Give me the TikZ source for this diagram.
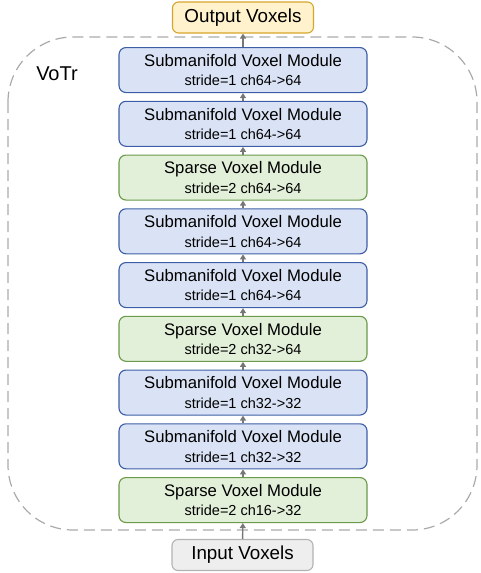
\documentclass[tikz,border=0pt]{standalone}
\usepackage{fontspec}
\setmainfont{Liberation Sans}
\usetikzlibrary{arrows.meta}
\definecolor{bluefill}{HTML}{DAE3F5}
\definecolor{blueline}{HTML}{3D5EA6}
\definecolor{greenfill}{HTML}{E2EFD9}
\definecolor{greenline}{HTML}{6A9A4A}
\definecolor{outfill}{HTML}{FFF2CC}
\definecolor{outline}{HTML}{D6A62C}
\definecolor{infill}{HTML}{EEEEEE}
\definecolor{inline}{HTML}{B3B3B3}
\definecolor{arrowgray}{HTML}{777777}
\definecolor{dashgray}{HTML}{AAAAAA}
\tikzset{
  modbox/.style={draw, rounded corners=7pt, line width=1.1pt, minimum width=248pt, minimum height=45pt, inner sep=0pt, anchor=north, align=center, font=\fontsize{16.7}{18}\selectfont},
  submod/.style={modbox, fill=bluefill, draw=blueline},
  sparsemod/.style={modbox, fill=greenfill, draw=greenline},
  iobox/.style={draw, rounded corners=6pt, line width=1.1pt, minimum width=141pt, minimum height=31pt, inner sep=0pt, font=\fontsize{18.8}{20}\selectfont},
  flow/.style={draw=arrowgray, line width=1.4pt, -{Triangle[length=5pt,width=6pt]}},
}
\newcommand{\subtxt}[1]{\\[1.5pt]{\fontsize{14.5}{16}\selectfont #1}}
\begin{document}
\begin{tikzpicture}[x=1pt,y=-1pt]
\useasboundingbox (0,0) rectangle (481,573);
\draw[dashgray, line width=1.2pt, dash pattern=on 11pt off 6pt, rounded corners=65pt] (8,37) rectangle (477,530);
\node[font=\fontsize{20}{22}\selectfont] (votr) at (57,74) {VoTr};
\node[iobox, fill=outfill, draw=outline] (out) at (243,17.5) {Output Voxels};
\node[iobox, fill=infill, draw=inline] (in) at (242.5,555) {Input Voxels};
\node[submod] (m1) at (243,47) {Submanifold Voxel Module\subtxt{stride=1 ch64->64}};
\node[submod] (m2) at (243,100.75) {Submanifold Voxel Module\subtxt{stride=1 ch64->64}};
\node[sparsemod] (m3) at (243,154.5) {Sparse Voxel Module\subtxt{stride=2 ch64->64}};
\node[submod] (m4) at (243,208.25) {Submanifold Voxel Module\subtxt{stride=1 ch64->64}};
\node[submod] (m5) at (243,262) {Submanifold Voxel Module\subtxt{stride=1 ch64->64}};
\node[sparsemod] (m6) at (243,315.75) {Sparse Voxel Module\subtxt{stride=2 ch32->64}};
\node[submod] (m7) at (243,369.5) {Submanifold Voxel Module\subtxt{stride=1 ch32->32}};
\node[submod] (m8) at (243,423.25) {Submanifold Voxel Module\subtxt{stride=1 ch32->32}};
\node[sparsemod] (m9) at (243,477) {Sparse Voxel Module\subtxt{stride=2 ch16->32}};
\draw[flow] (in) -- (m9);
\draw[flow] (m9) -- (m8);
\draw[flow] (m8) -- (m7);
\draw[flow] (m7) -- (m6);
\draw[flow] (m6) -- (m5);
\draw[flow] (m5) -- (m4);
\draw[flow] (m4) -- (m3);
\draw[flow] (m3) -- (m2);
\draw[flow] (m2) -- (m1);
\draw[flow] (m1) -- (out);
\end{tikzpicture}
\end{document}
